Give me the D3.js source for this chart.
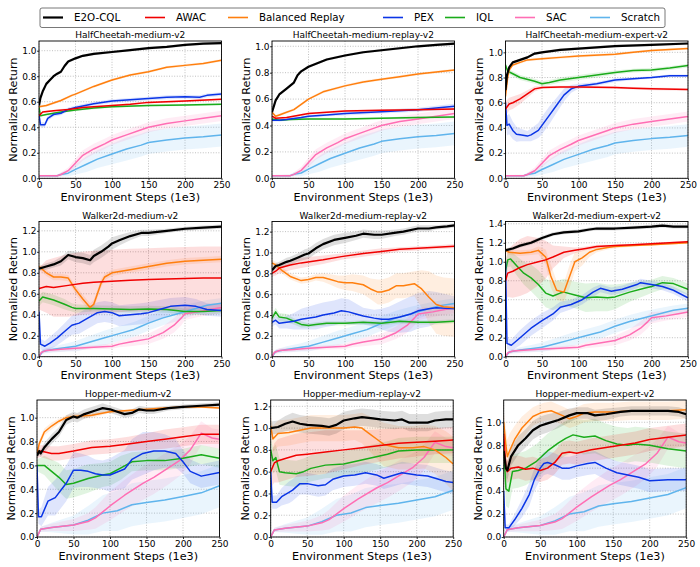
<!DOCTYPE html>
<html>
<head>
<meta charset="utf-8">
<script src="https://cdn.jsdelivr.net/npm/d3@7"></script>
<style>
  body { margin: 0; background: #fff; }
  svg { font-family: "DejaVu Sans", sans-serif; }
</style>
</head>
<body>
<svg id="chart" width="700" height="567"></svg>
<script>
// methods and colours
var methods = ["E2O-CQL", "AWAC", "Balanced Replay", "PEX", "IQL", "SAC", "Scratch"];
var colors = ["#000000", "#f00000", "#ff7f0e", "#0a35e6", "#1aab1a", "#ff6eb4", "#5fb4ec"];

var panelTitles = [
  "HalfCheetah-medium-v2", "HalfCheetah-medium-replay-v2", "HalfCheetah-medium-expert-v2",
  "Walker2d-medium-v2", "Walker2d-medium-replay-v2", "Walker2d-medium-expert-v2",
  "Hopper-medium-v2", "Hopper-medium-replay-v2", "Hopper-medium-expert-v2"
];
var xTicks = [0, 50, 100, 150, 200, 250];
var yTicks10 = [0, 0.2, 0.4, 0.6, 0.8, 1.0];
var yTicks12 = [0, 0.2, 0.4, 0.6, 0.8, 1.0, 1.2];
var yTicks14 = [0, 0.2, 0.4, 0.6, 0.8, 1.0, 1.2, 1.4];
var yMaxes = [1.076, 1.04, 1.09, 1.289, 1.297, 1.424, 1.148, 1.258, 1.194];

// each point: [step (1e3), mean return, std]
// SAC and Scratch don't use the offline data, same curves for every dataset of one env
var hcSAC = [[0,.02,.005],[25,.02,.008],[30,.03,.015],[40,.06,.025],[50,.12,.035],[60,.18,.04],[75,.23,.04],[90,.27,.04],[100,.3,.04],[120,.34,.04],[140,.38,.04],[150,.4,.04],[175,.43,.04],[200,.45,.04],[225,.47,.04],[250,.49,.04]];
var hcScratch = [[0,.02,.005],[25,.02,.008],[30,.03,.015],[40,.04,.025],[50,.07,.04],[65,.11,.06],[80,.15,.07],[100,.19,.08],[120,.23,.09],[140,.26,.09],[150,.28,.09],[175,.3,.09],[200,.315,.09],[225,.325,.09],[250,.34,.09]];
var wkSAC = [[0,0,.005],[3,.04,.02],[10,.06,.02],[30,.07,.02],[50,.08,.02],[75,.09,.02],[100,.1,.025],[110,.12,.03],[125,.14,.04],[150,.17,.05],[170,.23,.06],[185,.3,.07],[195,.37,.07],[200,.41,.06],[220,.43,.05],[235,.45,.05],[250,.47,.05]];
var wkScratch = [[0,0,.005],[5,.05,.02],[20,.07,.03],[40,.09,.04],[50,.1,.05],[70,.14,.06],[90,.18,.07],[110,.22,.07],[130,.26,.07],[140,.29,.07],[150,.32,.07],[170,.37,.07],[190,.41,.07],[210,.45,.06],[230,.49,.05],[250,.51,.05]];
var hpSAC = [[0,0,.005],[5,.065,.02],[20,.08,.03],[50,.1,.05],[70,.13,.07],[80,.16,.09],[100,.26,.12],[120,.35,.13],[145,.45,.14],[160,.5,.14],[180,.58,.14],[195,.64,.13],[210,.73,.12],[225,.87,.1],[240,.83,.08],[250,.82,.08]];
var hpScratch = [[0,0,.005],[5,.065,.02],[20,.08,.04],[50,.1,.08],[70,.14,.12],[90,.2,.15],[110,.22,.17],[130,.27,.18],[150,.29,.18],[175,.31,.18],[200,.34,.18],[225,.37,.18],[250,.43,.18]];

// E2O-CQL, AWAC, Balanced Replay, PEX, IQL
var hcMedium = [
  [[0,.57,.01],[2,.63,.01],[5,.68,.01],[10,.74,.01],[15,.77,.01],[20,.8,.01],[25,.82,.01],[30,.835,.01],[35,.88,.01],[40,.915,.01],[50,.94,.01],[60,.96,.01],[75,.975,.01],[100,.99,.01],[125,1.005,.01],[150,1.02,.01],[175,1.03,.01],[200,1.045,.01],[225,1.055,.01],[250,1.06,.01]],
  [[0,.49,.008],[5,.52,.008],[20,.53,.008],[40,.54,.008],[60,.555,.008],[100,.57,.008],[125,.58,.008],[150,.595,.008],[200,.605,.008],[250,.62,.008]],
  [[0,.56,.01],[10,.57,.01],[20,.59,.01],[30,.61,.01],[45,.65,.01],[50,.66,.01],[75,.72,.01],[100,.77,.01],[125,.81,.01],[150,.835,.01],[175,.87,.01],[200,.885,.01],[225,.9,.01],[250,.925,.01]],
  [[0,.5,.015],[2,.42,.02],[8,.42,.02],[12,.47,.02],[20,.5,.015],[30,.51,.015],[40,.54,.015],[50,.555,.015],[75,.585,.015],[100,.605,.015],[125,.615,.015],[150,.625,.015],[175,.635,.015],[200,.64,.015],[220,.635,.015],[230,.65,.015],[250,.66,.015]],
  [[0,.56,.01],[2,.49,.008],[10,.5,.008],[30,.52,.008],[50,.535,.008],[75,.55,.008],[100,.56,.008],[150,.57,.008],[200,.575,.008],[250,.58,.008]]
];
var hcReplay = [
  [[0,.5,.01],[5,.59,.01],[10,.635,.01],[20,.68,.01],[30,.725,.01],[35,.78,.01],[40,.81,.01],[50,.845,.01],[75,.9,.01],[100,.93,.01],[125,.955,.01],[150,.97,.01],[175,.985,.01],[200,1.0,.01],[225,1.01,.01],[250,1.02,.01]],
  [[0,.47,.008],[5,.455,.008],[20,.46,.008],[35,.475,.008],[50,.49,.008],[75,.5,.008],[100,.51,.008],[150,.515,.008],[200,.52,.008],[250,.525,.008]],
  [[0,.5,.01],[5,.47,.01],[10,.48,.01],[20,.5,.01],[30,.52,.01],[40,.56,.01],[50,.6,.01],[70,.655,.01],[100,.7,.01],[125,.73,.01],[150,.75,.01],[175,.77,.01],[200,.79,.01],[225,.805,.01],[250,.82,.01]],
  [[0,.44,.01],[10,.44,.01],[20,.445,.01],[40,.46,.01],[50,.47,.01],[75,.48,.01],[100,.49,.015],[150,.505,.015],[200,.52,.015],[250,.545,.02]],
  [[0,.45,.008],[10,.44,.008],[25,.445,.008],[50,.45,.008],[100,.45,.008],[150,.455,.008],[200,.46,.008],[250,.465,.008]]
];
var hcExpert = [
  [[0,.7,.02],[2,.82,.02],[5,.88,.015],[10,.92,.01],[20,.94,.01],[30,.96,.01],[40,.99,.01],[50,1.0,.01],[75,1.02,.01],[100,1.03,.01],[150,1.05,.01],[200,1.06,.01],[250,1.07,.01]],
  [[0,.55,.06],[5,.59,.05],[10,.6,.05],[20,.63,.04],[30,.67,.03],[40,.71,.02],[50,.72,.01],[75,.725,.01],[100,.725,.01],[150,.72,.01],[175,.715,.01],[200,.71,.01],[250,.705,.01]],
  [[0,.65,.02],[3,.8,.02],[5,.86,.015],[10,.9,.01],[20,.92,.01],[30,.94,.01],[50,.95,.01],[75,.96,.01],[100,.97,.01],[150,.985,.01],[175,1.0,.01],[200,1.015,.01],[250,1.03,.01]],
  [[0,.6,.1],[2,.42,.08],[5,.43,.08],[10,.38,.07],[15,.35,.06],[20,.345,.05],[30,.335,.04],[35,.345,.05],[45,.38,.06],[50,.42,.07],[60,.5,.07],[70,.58,.06],[80,.66,.05],[90,.71,.03],[100,.73,.02],[125,.75,.015],[150,.78,.015],[175,.79,.01],[200,.8,.01],[225,.815,.01],[250,.815,.01]],
  [[0,.9,.02],[3,.85,.02],[10,.83,.02],[20,.8,.02],[40,.77,.02],[50,.75,.02],[60,.76,.02],[75,.78,.02],[100,.8,.02],[125,.82,.02],[150,.84,.015],[175,.855,.015],[200,.86,.015],[225,.875,.015],[250,.895,.015]]
];
var wkMedium = [
  [[0,.84,.02],[10,.86,.03],[20,.88,.03],[30,.91,.04],[40,.97,.04],[50,.95,.05],[60,.94,.05],[70,.92,.05],[75,.96,.06],[85,1.0,.06],[95,1.05,.06],[100,1.08,.06],[110,1.11,.05],[125,1.15,.04],[140,1.18,.03],[150,1.18,.03],[175,1.2,.02],[200,1.22,.02],[225,1.23,.02],[250,1.24,.02]],
  [[0,.65,.2],[10,.67,.25],[20,.66,.28],[40,.68,.3],[60,.7,.3],[75,.71,.3],[100,.72,.3],[125,.73,.3],[150,.735,.3],[175,.74,.3],[200,.745,.3],[225,.75,.3],[250,.75,.3]],
  [[0,.86,.03],[10,.8,.03],[20,.76,.03],[30,.76,.03],[40,.75,.03],[50,.64,.04],[60,.55,.04],[70,.47,.04],[75,.5,.04],[80,.6,.04],[85,.7,.04],[90,.76,.03],[100,.8,.03],[125,.83,.03],[150,.86,.03],[175,.89,.03],[200,.91,.03],[225,.92,.03],[250,.93,.03]],
  [[0,.43,.05],[2,.12,.05],[8,.1,.05],[15,.13,.06],[25,.18,.07],[35,.24,.08],[45,.3,.09],[55,.32,.1],[65,.36,.1],[80,.42,.1],[90,.43,.1],[100,.42,.1],[110,.39,.1],[125,.4,.1],[140,.41,.1],[150,.42,.1],[165,.45,.09],[180,.48,.08],[200,.49,.08],[215,.48,.07],[230,.45,.06],[250,.44,.06]],
  [[0,.53,.05],[5,.57,.05],[10,.56,.05],[20,.54,.05],[35,.5,.05],[45,.47,.04],[50,.46,.04],[75,.46,.03],[100,.455,.03],[125,.45,.03],[150,.455,.03],[175,.45,.03],[200,.43,.03],[225,.43,.03],[250,.44,.03]]
];
var wkReplay = [
  [[0,.83,.03],[5,.87,.03],[10,.88,.03],[20,.91,.04],[25,.92,.04],[35,.95,.04],[45,.98,.05],[50,.99,.05],[60,1.04,.05],[70,1.08,.05],[85,1.12,.05],[100,1.14,.05],[115,1.16,.04],[125,1.18,.04],[140,1.17,.04],[150,1.17,.04],[170,1.19,.03],[180,1.2,.03],[200,1.23,.03],[215,1.23,.03],[225,1.24,.02],[240,1.25,.02],[250,1.26,.02]],
  [[0,.8,.03],[5,.82,.04],[10,.85,.05],[25,.88,.05],[40,.9,.05],[70,.93,.04],[95,.96,.03],[125,.99,.03],[150,1.01,.03],[175,1.03,.02],[200,1.04,.02],[225,1.05,.02],[250,1.06,.02]],
  [[0,.9,.03],[5,.88,.03],[15,.82,.03],[25,.77,.03],[40,.73,.03],[50,.74,.03],[60,.76,.03],[70,.76,.04],[80,.74,.05],[90,.72,.06],[100,.71,.07],[110,.71,.08],[125,.69,.09],[135,.65,.1],[145,.62,.12],[150,.62,.12],[160,.64,.12],[170,.68,.12],[180,.68,.12],[195,.7,.12],[205,.65,.18],[215,.57,.25],[225,.5,.28],[235,.48,.28],[250,.47,.28]],
  [[0,.33,.04],[5,.35,.04],[10,.32,.05],[20,.33,.06],[30,.34,.08],[40,.36,.1],[60,.38,.12],[70,.4,.12],[85,.42,.12],[95,.44,.12],[105,.43,.12],[115,.41,.1],[125,.39,.08],[140,.37,.08],[150,.36,.1],[160,.36,.12],[175,.38,.15],[190,.41,.17],[200,.44,.17],[215,.46,.17],[225,.47,.15],[250,.46,.12]],
  [[0,.37,.04],[5,.43,.04],[10,.38,.04],[20,.37,.04],[30,.34,.03],[40,.31,.03],[50,.3,.02],[60,.31,.02],[75,.32,.02],[100,.32,.02],[125,.33,.02],[150,.32,.02],[175,.34,.02],[200,.33,.02],[225,.33,.02],[250,.34,.02]]
];
var wkExpert = [
  [[0,1.12,.02],[10,1.14,.02],[20,1.17,.02],[35,1.2,.02],[50,1.25,.02],[65,1.29,.02],[80,1.31,.02],[100,1.32,.02],[115,1.34,.02],[125,1.35,.02],[150,1.35,.02],[175,1.36,.02],[200,1.37,.02],[215,1.38,.02],[230,1.37,.02],[250,1.37,.02]],
  [[0,.8,.2],[3,.88,.25],[10,.9,.28],[20,.94,.3],[30,.97,.3],[45,1.0,.25],[55,1.02,.2],[65,1.05,.12],[80,1.1,.06],[95,1.12,.03],[110,1.14,.02],[125,1.16,.02],[150,1.17,.01],[175,1.18,.01],[200,1.19,.01],[225,1.2,.01],[250,1.21,.01]],
  [[0,1.12,.03],[5,1.1,.03],[20,1.09,.03],[35,1.1,.03],[45,1.12,.04],[55,1.05,.08],[62,.85,.12],[70,.7,.1],[80,.68,.1],[88,.85,.12],[95,1.0,.1],[105,1.04,.08],[115,1.1,.05],[125,1.13,.03],[140,1.15,.02],[150,1.16,.02],[175,1.17,.01],[200,1.18,.01],[225,1.19,.01],[250,1.2,.01]],
  [[0,1.0,.05],[2,.14,.06],[8,.12,.06],[20,.2,.08],[35,.3,.08],[50,.38,.08],[65,.45,.07],[75,.52,.06],[90,.55,.05],[105,.6,.05],[120,.68,.05],[130,.72,.04],[145,.69,.04],[160,.71,.04],[180,.76,.04],[185,.78,.04],[200,.76,.04],[215,.74,.04],[230,.7,.04],[250,.62,.04]],
  [[0,.9,.1],[3,1.02,.08],[7,1.03,.08],[15,.96,.1],[25,.88,.12],[35,.83,.14],[45,.76,.15],[55,.67,.15],[65,.64,.15],[75,.67,.14],[80,.68,.14],[95,.65,.14],[110,.62,.15],[125,.63,.15],[140,.62,.14],[150,.63,.13],[170,.68,.1],[190,.72,.08],[200,.74,.07],[215,.78,.07],[230,.77,.06],[250,.71,.06]]
];
var hpMedium = [
  [[0,.68,.03],[3,.72,.03],[5,.7,.03],[10,.75,.04],[20,.82,.04],[30,.88,.04],[40,.98,.04],[50,1.01,.04],[55,1.0,.04],[65,1.03,.04],[80,1.06,.04],[90,1.08,.04],[100,1.07,.03],[110,1.05,.03],[120,1.03,.03],[130,1.04,.03],[140,1.07,.03],[150,1.06,.03],[160,1.06,.03],[180,1.08,.02],[200,1.09,.02],[225,1.1,.02],[250,1.11,.02]],
  [[0,.7,.04],[5,.72,.05],[20,.7,.06],[30,.7,.06],[50,.72,.06],[75,.75,.06],[100,.76,.06],[125,.78,.06],[150,.8,.07],[175,.82,.08],[200,.84,.08],[225,.86,.08],[250,.86,.08]],
  [[0,.7,.03],[3,.78,.03],[10,.88,.03],[20,.93,.03],[30,.97,.02],[40,1.0,.02],[50,1.01,.02],[75,1.02,.02],[100,1.05,.01],[125,1.06,.01],[150,1.07,.01],[175,1.08,.01],[200,1.09,.01],[225,1.09,.01],[250,1.08,.01]],
  [[0,.6,.05],[2,.17,.06],[6,.17,.08],[15,.3,.12],[25,.33,.15],[40,.45,.15],[50,.56,.15],[60,.56,.14],[70,.55,.13],[80,.53,.12],[90,.52,.12],[100,.52,.14],[120,.57,.16],[130,.65,.17],[145,.7,.18],[160,.72,.16],[175,.72,.14],[190,.7,.12],[200,.63,.1],[210,.55,.1],[225,.51,.1],[250,.54,.1]],
  [[0,.6,.05],[10,.6,.08],[20,.55,.1],[30,.5,.12],[40,.44,.12],[50,.45,.12],[70,.49,.12],[90,.52,.1],[100,.53,.1],[115,.58,.1],[130,.63,.08],[150,.64,.08],[175,.64,.08],[200,.66,.08],[225,.69,.08],[250,.66,.08]]
];
var hpReplay = [
  [[0,1.0,.06],[10,1.01,.06],[20,1.04,.07],[30,1.06,.08],[40,1.04,.08],[50,1.03,.08],[70,1.02,.08],[80,1.01,.08],[90,1.03,.08],[100,1.07,.08],[115,1.09,.08],[125,1.1,.08],[140,1.09,.08],[150,1.08,.08],[170,1.07,.08],[180,1.08,.08],[190,1.05,.08],[200,1.05,.08],[215,1.05,.08],[225,1.07,.08],[240,1.08,.08],[250,1.08,.08]],
  [[0,.6,.15],[5,.68,.18],[10,.7,.2],[20,.72,.2],[35,.75,.2],[50,.76,.2],[75,.78,.2],[100,.8,.18],[125,.82,.16],[150,.84,.15],[175,.86,.14],[200,.87,.13],[225,.88,.12],[250,.89,.12]],
  [[0,1.02,.1],[3,.9,.12],[10,.95,.12],[25,.96,.12],[40,.98,.12],[55,1.0,.12],[75,1.0,.12],[100,1.0,.12],[115,1.01,.12],[125,1.0,.14],[135,.95,.16],[145,.9,.18],[155,.85,.2],[175,.82,.2],[195,.82,.2],[210,.83,.2],[225,.8,.22],[240,.73,.24],[250,.67,.25]],
  [[0,.6,.1],[2,.32,.06],[8,.32,.06],[15,.37,.08],[25,.41,.1],[30,.43,.1],[40,.49,.1],[50,.49,.1],[65,.47,.1],[75,.48,.1],[85,.53,.1],[100,.56,.1],[115,.57,.1],[130,.59,.1],[145,.57,.1],[155,.54,.1],[165,.56,.1],[180,.59,.1],[200,.57,.1],[215,.56,.1],[230,.53,.1],[240,.51,.1],[250,.5,.1]],
  [[0,.8,.1],[3,.7,.12],[7,.73,.12],[12,.6,.12],[20,.59,.12],[35,.58,.12],[45,.6,.12],[55,.63,.12],[75,.66,.12],[100,.67,.12],[120,.7,.12],[140,.73,.12],[160,.76,.12],[175,.79,.12],[200,.8,.12],[225,.8,.12],[250,.8,.12]]
];
var hpExpert = [
  [[0,.75,.08],[3,.6,.08],[5,.58,.08],[10,.7,.08],[20,.8,.08],[30,.86,.08],[40,.93,.08],[50,.97,.08],[60,.99,.08],[75,1.02,.07],[90,1.06,.06],[100,1.08,.05],[115,1.08,.05],[125,1.06,.05],[140,1.07,.05],[160,1.09,.04],[175,1.1,.04],[200,1.1,.04],[225,1.1,.04],[240,1.09,.04],[250,1.07,.04]],
  [[0,.9,.1],[3,.6,.1],[5,.57,.1],[10,.6,.1],[20,.61,.1],[30,.59,.1],[40,.6,.1],[50,.58,.1],[60,.6,.1],[70,.65,.1],[80,.73,.1],[90,.74,.1],[100,.73,.1],[120,.76,.1],[140,.78,.1],[160,.8,.1],[180,.82,.1],[200,.85,.1],[225,.87,.1],[250,.89,.1]],
  [[0,1.0,.1],[3,.8,.15],[5,.7,.15],[8,.75,.15],[15,.85,.12],[25,.95,.1],[40,1.05,.08],[50,1.08,.08],[55,1.09,.08],[65,1.1,.08],[80,1.06,.08],[90,1.03,.08],[100,1.05,.08],[110,1.08,.08],[125,1.09,.08],[150,1.09,.08],[175,1.1,.08],[200,1.1,.08],[225,1.1,.08],[250,1.11,.08]],
  [[0,.4,.05],[2,.08,.03],[7,.08,.03],[15,.15,.05],[25,.25,.08],[35,.37,.1],[42,.5,.1],[50,.6,.1],[55,.64,.1],[60,.65,.1],[70,.63,.1],[80,.6,.1],[90,.6,.1],[100,.62,.1],[115,.64,.1],[125,.65,.1],[140,.6,.1],[155,.56,.1],[170,.54,.1],[185,.52,.1],[200,.49,.1],[225,.5,.1],[240,.5,.1],[250,.5,.1]],
  [[0,.8,.15],[3,.42,.15],[7,.4,.15],[12,.57,.15],[20,.58,.15],[30,.6,.15],[45,.66,.15],[60,.75,.15],[75,.82,.15],[85,.86,.15],[95,.89,.15],[110,.87,.15],[125,.88,.15],[140,.84,.15],[155,.81,.15],[170,.8,.15],[180,.81,.15],[200,.8,.15],[225,.77,.15],[250,.75,.15]]
];

var panelSeries = [
  hcMedium.concat([hcSAC, hcScratch]), hcReplay.concat([hcSAC, hcScratch]), hcExpert.concat([hcSAC, hcScratch]),
  wkMedium.concat([wkSAC, wkScratch]), wkReplay.concat([wkSAC, wkScratch]), wkExpert.concat([wkSAC, wkScratch]),
  hpMedium.concat([hpSAC, hpScratch]), hpReplay.concat([hpSAC, hpScratch]), hpExpert.concat([hpSAC, hpScratch])
];
var panelYTicks = [yTicks10, yTicks10, yTicks10, yTicks12, yTicks12, yTicks14, yTicks10, yTicks12, yTicks10];

//Layout of the 3x3 grid
var plotW = 182.5;
var colLeft = [[39, 272, 505.5], [39, 272, 505.5], [37, 270.7, 503.7]];
var rowTop = [41, 221.5, 400];
var rowBottom = [178.3, 356.7, 537];

var svg = d3.select("#chart");

panelSeries.forEach(function (series, i) {
  var r = Math.floor(i / 3), c = i % 3;
  var left = colLeft[r][c], top = rowTop[r];
  var h = rowBottom[r] - top;

  var x = d3.scaleLinear().domain([0, 250]).range([0, plotW]);
  var y = d3.scaleLinear().domain([0, yMaxes[i]]).range([h, 0]);

  var g = svg.append("g").attr("transform", "translate(" + left + "," + top + ")");

  //dotted grid
  g.append("g").selectAll("line").data(xTicks).join("line")
    .attr("x1", function (d) { return x(d); }).attr("x2", function (d) { return x(d); })
    .attr("y1", 0).attr("y2", h)
    .attr("stroke", "#b0b0b0").attr("stroke-width", 0.8).attr("stroke-dasharray", "1,1.6");
  g.append("g").selectAll("line").data(panelYTicks[i]).join("line")
    .attr("y1", function (d) { return y(d); }).attr("y2", function (d) { return y(d); })
    .attr("x1", 0).attr("x2", plotW)
    .attr("stroke", "#b0b0b0").attr("stroke-width", 0.8).attr("stroke-dasharray", "1,1.6");

  svg.append("clipPath").attr("id", "clip" + i)
    .append("rect").attr("width", plotW).attr("height", h);
  var cg = g.append("g").attr("clip-path", "url(#clip" + i + ")");

  var area = d3.area()
    .x(function (d) { return x(d[0]); })
    .y0(function (d) { return y(d[1] - d[2]); })
    .y1(function (d) { return y(d[1] + d[2]); });
  var line = d3.line()
    .x(function (d) { return x(d[0]); })
    .y(function (d) { return y(d[1]); });

  //draw E2O-CQL last so it sits on top
  var order = [6, 5, 4, 3, 2, 1, 0];
  order.forEach(function (k) {
    cg.append("path").datum(series[k]).attr("d", area)
      .attr("fill", colors[k]).attr("fill-opacity", 0.13);
  });
  order.forEach(function (k) {
    cg.append("path").datum(series[k]).attr("d", line)
      .attr("fill", "none").attr("stroke", colors[k])
      .attr("stroke-width", k === 0 ? 2.2 : 1.5)
      .attr("stroke-linejoin", "round");
  });

  //axes
  var xAxis = g.append("g").attr("transform", "translate(0," + h + ")")
    .call(d3.axisBottom(x).tickValues(xTicks).tickSize(2).tickPadding(1.5));
  var yAxis = g.append("g")
    .call(d3.axisLeft(y).tickValues(panelYTicks[i]).tickFormat(d3.format(".1f")).tickSize(2).tickPadding(0.5));
  [xAxis, yAxis].forEach(function (a) {
    a.attr("font-family", null).attr("font-size", 9);
    a.select(".domain").remove();
    a.selectAll(".tick line").attr("stroke-width", 0.8);
  });

  g.append("rect").attr("width", plotW).attr("height", h)
    .attr("fill", "none").attr("stroke", "#000").attr("stroke-width", 0.9);

  g.append("text").attr("x", plotW / 2).attr("y", -3)
    .attr("text-anchor", "middle").attr("font-size", 9)
    .text(panelTitles[i]);
  g.append("text").attr("x", plotW / 2).attr("y", h + 22.5)
    .attr("text-anchor", "middle").attr("font-size", 11.2)
    .text("Environment Steps (1e3)");
  g.append("text").attr("transform", "translate(-26," + (h / 2) + ") rotate(-90)")
    .attr("dy", "0.35em").attr("text-anchor", "middle").attr("font-size", 11.2)
    .text("Normalized Return");
});

//Legend across the top
var legendX = [43, 145, 228, 383, 445, 515, 590];
var legend = svg.append("g");
legend.append("rect").attr("x", 40).attr("y", 8).attr("width", 625).attr("height", 19.5)
  .attr("rx", 2).attr("fill", "#fff").attr("stroke", "#555").attr("stroke-width", 0.8);
methods.forEach(function (m, k) {
  legend.append("line").attr("x1", legendX[k]).attr("x2", legendX[k] + 20)
    .attr("y1", 17.5).attr("y2", 17.5)
    .attr("stroke", colors[k]).attr("stroke-width", k === 0 ? 2.2 : 1.6);
  legend.append("text").attr("x", legendX[k] + 31).attr("y", 17.5).attr("dy", "0.35em")
    .attr("font-size", 10.3).text(m);
});
</script>
</body>
</html>
